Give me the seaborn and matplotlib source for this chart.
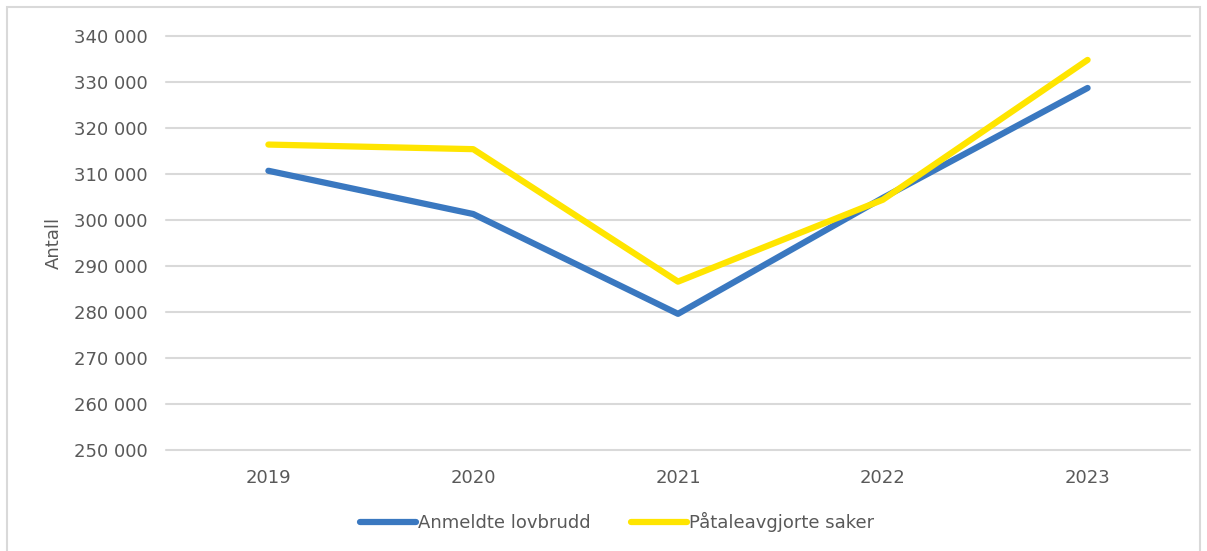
import pandas as pd
import matplotlib
matplotlib.use('Agg')
import matplotlib.pyplot as plt
import matplotlib.patches as patches
import seaborn as sns

years = ['2019', '2020', '2021', '2022', '2023']
anmeldte = [310700, 301300, 279600, 304800, 328700]
pataleavgjorte = [316400, 315400, 286600, 304400, 334800]
series_names = ['Anmeldte lovbrudd', 'Påtaleavgjorte saker']
yticks = [250000, 260000, 270000, 280000, 290000, 300000, 310000, 320000, 330000, 340000]

df = pd.DataFrame({
    'År': years * 2,
    'Antall': anmeldte + pataleavgjorte,
    'Serie': [series_names[0]] * len(years) + [series_names[1]] * len(years),
})

sns.set_theme(style='white')
plt.rcParams['font.family'] = ['DejaVu Sans']
text_col = '#595959'
grid_col = '#d9d9d9'

fig = plt.figure(figsize=(12.07, 5.51), dpi=100)
ax = fig.add_axes([166 / 1207, 1 - 450 / 551, (1190 - 166) / 1207, (450 - 36) / 551])

sns.lineplot(data=df, x='År', y='Antall', hue='Serie', sort=False,
             palette=['#3a78c0', '#ffe500'], linewidth=4.5, ax=ax,
             solid_capstyle='round')

ax.set_xlim(-0.5, 4.5)
ax.set_ylim(250000, 340000)
ax.set_yticks(yticks)
ax.set_yticklabels([f'{v:,}'.replace(',', ' ') for v in yticks])
ax.yaxis.grid(True, color=grid_col, linewidth=1.5)
for gl in ax.get_ygridlines():
    gl.set_clip_on(False)
ax.set_axisbelow(True)
for s in ax.spines.values():
    s.set_visible(False)
ax.tick_params(axis='both', length=0, labelsize=13, colors=text_col)
ax.tick_params(axis='y', pad=13)
ax.tick_params(axis='x', pad=14)
ax.set_xlabel('')
ax.set_ylabel('Antall', fontsize=13, color=text_col, labelpad=8)

handles, labels = ax.get_legend_handles_labels()
ax.get_legend().remove()
fig.legend(handles, labels, loc='center', bbox_to_anchor=(617 / 1207, 1 - 522 / 551), ncol=2,
           frameon=False, fontsize=13, labelcolor=text_col, handlelength=3.1,
           handletextpad=0.15, columnspacing=2.2)

# chart area border
fig.patches.append(patches.Rectangle((7 / 1207, -0.05), 1193 / 1207, 1 - 7 / 551 + 0.05,
                                     transform=fig.transFigure, fill=False,
                                     edgecolor=grid_col, linewidth=1.5))

fig.savefig('out.png', dpi=100)
